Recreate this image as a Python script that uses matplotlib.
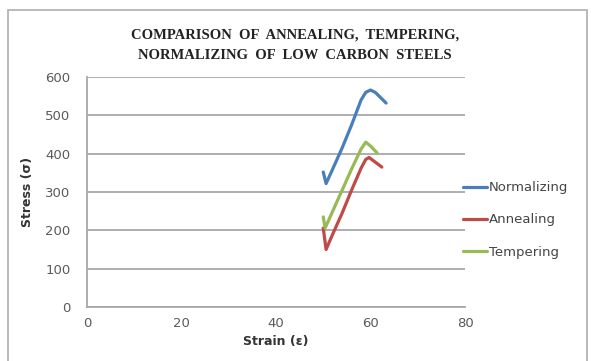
import matplotlib
matplotlib.use("Agg")
import matplotlib.pyplot as plt
from matplotlib.patches import Rectangle

title = "COMPARISON  OF  ANNEALING,  TEMPERING,\nNORMALIZING  OF  LOW  CARBON  STEELS"
x_label = "Strain (ε)"
y_label = "Stress (σ)"
x_ticks = [0, 20, 40, 60, 80]
y_ticks = [0, 100, 200, 300, 400, 500, 600]

norm_x = [50, 50.6, 52, 54, 56, 58, 59, 60, 61, 62, 63.3]
norm_y = [352, 322, 360, 415, 475, 540, 560, 566, 560, 548, 532]

anneal_x = [50, 50.6, 52, 54, 56, 58, 59, 59.7, 61, 62.4]
anneal_y = [206, 150, 190, 245, 305, 362, 385, 390, 378, 365]

temper_x = [50, 50.4, 52, 54, 56, 58, 59, 60, 61.4]
temper_y = [235, 206, 250, 305, 360, 412, 430, 420, 402]

series = [
    ("Normalizing", norm_x, norm_y, "#4A7EBB"),
    ("Annealing", anneal_x, anneal_y, "#BE4B48"),
    ("Tempering", temper_x, temper_y, "#98B954"),
]

W, H = 591, 361
fig = plt.figure(figsize=(W / 100, H / 100), dpi=100)
fig.patch.set_facecolor("white")

# outer chart frame
fig.patches.append(Rectangle((8 / W, -0.1), (587 - 8) / W, 1.1 - 9.5 / H,
                             transform=fig.transFigure, fill=False,
                             edgecolor="#b4b4b4", linewidth=1.3))

ax = fig.add_axes([87 / W, 1 - 307 / H, (465 - 87) / W, (307 - 77) / H])
ax.set_xlim(0, 80)
ax.set_ylim(0, 600)
ax.set_xticks(x_ticks)
ax.set_yticks(y_ticks)

for name, xs, ys, c in series:
    ax.plot(xs, ys, color=c, linewidth=2.3, label=name, solid_capstyle="round",
            solid_joinstyle="round")

ax.grid(axis="y", color="#a8a8a8", linewidth=1.3)
ax.set_axisbelow(True)
for s in ["top", "right"]:
    ax.spines[s].set_visible(False)
for s in ["left", "bottom"]:
    ax.spines[s].set_color("#a8a8a8")
    ax.spines[s].set_linewidth(1.3)
ax.tick_params(axis="y", length=0, labelsize=9.5, labelcolor="#5a5a5a", pad=12)
ax.tick_params(axis="x", length=0, labelsize=9.5, labelcolor="#5a5a5a", pad=7)

ax.set_xlabel(x_label, fontsize=9, fontweight="bold", color="#333333",
              labelpad=4, family="DejaVu Sans")
ax.set_ylabel(y_label, fontsize=9, fontweight="bold", color="#333333",
              labelpad=8, family="DejaVu Sans")

fig.text(295 / W, 1 - 45.5 / H, title, ha="center", va="center",
         fontsize=10.5, fontweight="bold", family="Liberation Serif",
         color="#222222", linespacing=1.75)

leg = ax.legend(loc="center left", bbox_to_anchor=((463 - 87) / (465 - 87), (307 - 220) / 230),
                frameon=False, handlelength=1.8, handletextpad=0.15,
                labelspacing=1.45, borderaxespad=0, borderpad=0,
                prop={"family": "DejaVu Sans", "size": 9.5})
for t in leg.get_texts():
    t.set_color("#444444")

fig.savefig("out.png", dpi=100)
